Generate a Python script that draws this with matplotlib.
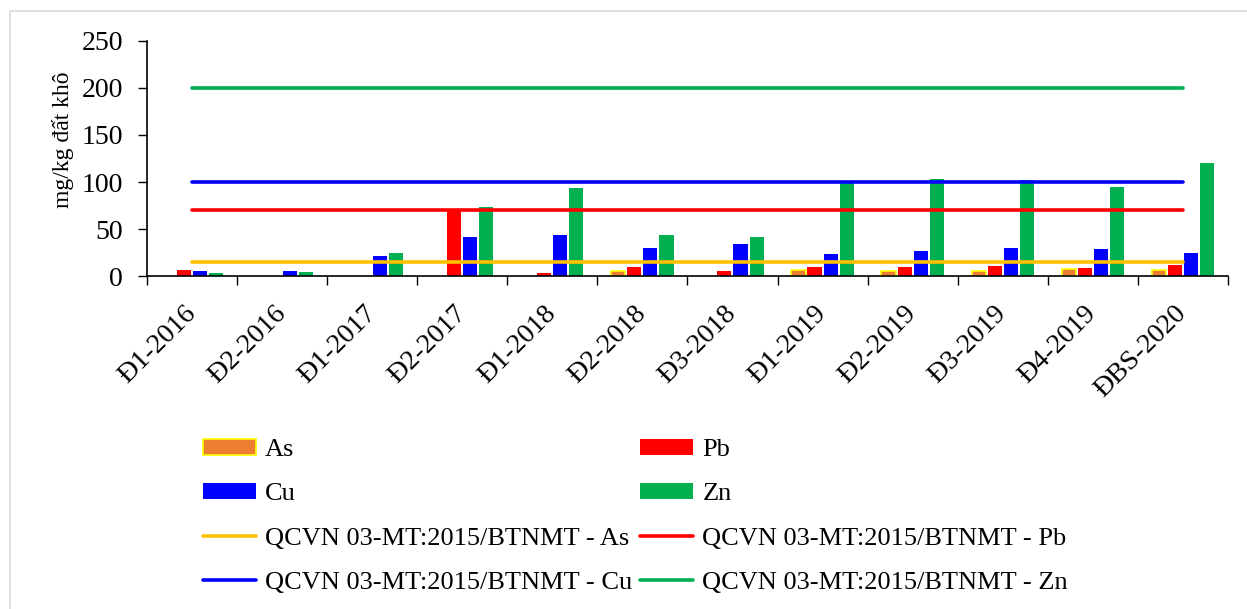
import numpy as np
import matplotlib
matplotlib.use("Agg")
import matplotlib.pyplot as plt
from matplotlib.patches import Rectangle

plt.rcParams['font.family'] = ['Liberation Serif', 'DejaVu Serif']

# sampling rounds
categories = ["Đ1-2016", "Đ2-2016", "Đ1-2017", "Đ2-2017", "Đ1-2018", "Đ2-2018",
              "Đ3-2018", "Đ1-2019", "Đ2-2019", "Đ3-2019", "Đ4-2019", "ĐBS-2020"]

# measured concentrations (mg/kg dry soil), nan = not shown
as_vals = [np.nan, np.nan, np.nan, np.nan, np.nan, 6.0, np.nan, 6.3, 5.3, 5.3, 7.4, 7.1]
pb_vals = [7.1, 0.8, 0.8, 70.0, 3.9, 9.5, 5.6, 9.9, 9.5, 10.6, 8.5, 12.4]
cu_vals = [5.6, 5.6, 21.9, 41.5, 44.3, 29.8, 34.4, 23.4, 26.9, 30.1, 28.7, 24.8]
zn_vals = [3.5, 4.9, 24.4, 73.4, 93.6, 44.3, 41.8, 99.5, 103.5, 101.7, 94.4, 119.9]

# QCVN 03-MT:2015/BTNMT limits
lim_as = [15] * 12
lim_pb = [70] * 12
lim_cu = [100] * 12
lim_zn = [200] * 12

x = np.arange(len(categories))
step = 0.178
bw = 0.156

fig = plt.figure(figsize=(12.47, 6.09), dpi=100)
ax = fig.add_axes([0.1181, 0.5463, 0.8664, 0.3869])

# chart area border (only left/top visible in the crop)
fig.add_artist(Rectangle((10 / 1247, -0.1), 1.2, 1.1 - 11.5 / 609, transform=fig.transFigure,
                         fill=False, edgecolor='#d9d9d9', linewidth=1.2, clip_on=False))

b_as = ax.bar(x - 1.5 * step, as_vals, bw, color='#ED7D31', edgecolor='#FFFF00', linewidth=1.2, label='As')
b_pb = ax.bar(x - 0.5 * step, pb_vals, bw, color='#FF0000', label='Pb')
b_cu = ax.bar(x + 0.5 * step, cu_vals, bw, color='#0000FF', label='Cu')
b_zn = ax.bar(x + 1.5 * step, zn_vals, bw, color='#00B050', label='Zn')

lw = 2.6
l_as, = ax.plot(x, lim_as, color='#FFC000', lw=lw, solid_capstyle='round', label='QCVN 03-MT:2015/BTNMT - As')
l_pb, = ax.plot(x, lim_pb, color='#FF0000', lw=lw, solid_capstyle='round', label='QCVN 03-MT:2015/BTNMT - Pb')
l_cu, = ax.plot(x, lim_cu, color='#0000FF', lw=lw, solid_capstyle='round', label='QCVN 03-MT:2015/BTNMT - Cu')
l_zn, = ax.plot(x, lim_zn, color='#00B050', lw=lw, solid_capstyle='round', label='QCVN 03-MT:2015/BTNMT - Zn')

ax.set_xlim(-0.5, len(categories) - 0.5)
ax.set_ylim(0, 250)
ax.set_yticks(np.arange(0, 251, 50))
ax.tick_params(axis='y', direction='out', length=6.5, width=1, pad=11, labelsize=20)

ax.set_xticks(x)
ax.set_xticklabels(categories, rotation=45, ha='right', va='center', rotation_mode='anchor')
ax.set_xticks(np.arange(-0.5, len(categories), 1), minor=True)
ax.tick_params(axis='x', which='major', length=0, pad=24, labelsize=20)
ax.tick_params(axis='x', which='minor', direction='out', length=6.5, width=1)

for s in ['top', 'right']:
    ax.spines[s].set_visible(False)
for s in ['left', 'bottom']:
    ax.spines[s].set_linewidth(1.2)

ax.set_ylabel('mg/kg đất khô', fontsize=17)
ax.yaxis.set_label_coords(-0.068, 0.58)

handles = [b_as, b_cu, l_as, l_cu, b_pb, b_zn, l_pb, l_zn]
fig.legend(handles=handles, labels=[h.get_label() for h in handles], ncol=2,
           loc='upper left', bbox_to_anchor=(203 / 1247, 1 - 439 / 609),
           frameon=False, fontsize=19, borderpad=0, borderaxespad=0,
           handlelength=2.0, handleheight=0.55, handletextpad=0.35,
           columnspacing=0.3, labelspacing=0.83)

fig.savefig('out.png', dpi=100)
